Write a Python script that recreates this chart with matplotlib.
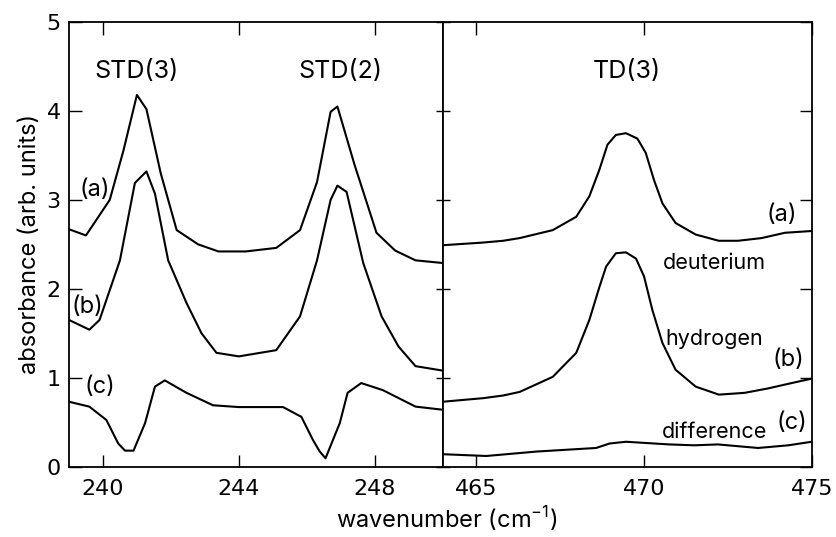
import matplotlib.pyplot as plt

plt.rcParams['font.family'] = ['Inter', 'DejaVu Sans']
plt.rcParams['mathtext.fontset'] = 'custom'
plt.rcParams['mathtext.rm'] = 'Inter'

# Data - low wavenumber region (STD bands)
x_a_low = [239.0, 239.5, 240.2, 240.6, 241.0, 241.28, 241.7, 242.17, 242.8, 243.4, 244.2, 245.1, 245.8, 246.3, 246.7, 246.9, 247.4, 248.05, 248.6, 249.2, 250.0]
y_a_low = [2.67, 2.60, 3.00, 3.55, 4.18, 4.02, 3.30, 2.66, 2.50, 2.42, 2.42, 2.46, 2.66, 3.20, 3.99, 4.05, 3.40, 2.63, 2.43, 2.32, 2.29]

x_b_low = [239.0, 239.6, 239.9, 240.5, 240.94, 241.28, 241.53, 241.92, 242.46, 242.9, 243.34, 244.0, 245.1, 245.8, 246.3, 246.7, 246.9, 247.17, 247.66, 248.2, 248.7, 249.2, 250.0]
y_b_low = [1.65, 1.54, 1.65, 2.32, 3.19, 3.32, 3.07, 2.32, 1.84, 1.50, 1.28, 1.24, 1.31, 1.69, 2.32, 3.00, 3.16, 3.09, 2.29, 1.69, 1.35, 1.13, 1.08]

x_c_low = [239.0, 239.6, 240.1, 240.45, 240.65, 240.9, 241.24, 241.53, 241.82, 242.46, 243.24, 244.0, 245.3, 245.84, 246.18, 246.38, 246.55, 246.97, 247.2, 247.6, 248.24, 249.2, 250.0]
y_c_low = [0.73, 0.675, 0.525, 0.26, 0.18, 0.18, 0.49, 0.90, 0.97, 0.83, 0.69, 0.67, 0.67, 0.56, 0.30, 0.17, 0.094, 0.49, 0.83, 0.94, 0.86, 0.675, 0.64]

# Data - high wavenumber region (TD band)
x_a_high = [464.0, 465.2, 465.8, 466.29, 467.28, 467.98, 468.37, 468.67, 468.91, 469.16, 469.46, 469.8, 470.05, 470.3, 470.55, 470.94, 471.54, 472.23, 472.8, 473.5, 474.2, 475.0]
y_a_high = [2.49, 2.52, 2.54, 2.57, 2.66, 2.81, 3.04, 3.34, 3.62, 3.73, 3.75, 3.69, 3.53, 3.22, 2.96, 2.74, 2.61, 2.54, 2.54, 2.57, 2.63, 2.65]

x_b_high = [464.0, 465.2, 465.8, 466.29, 467.28, 467.98, 468.37, 468.67, 468.87, 469.16, 469.46, 469.76, 470.0, 470.25, 470.55, 470.94, 471.54, 472.23, 473.0, 473.7, 474.4, 475.0]
y_b_high = [0.73, 0.77, 0.80, 0.84, 1.01, 1.28, 1.65, 2.02, 2.25, 2.40, 2.41, 2.34, 2.14, 1.76, 1.39, 1.09, 0.90, 0.81, 0.83, 0.88, 0.94, 0.99]

x_c_high = [464.0, 465.3, 466.8, 468.57, 468.97, 469.46, 470.75, 471.5, 472.2, 472.8, 473.4, 474.3, 475.0]
y_c_high = [0.14, 0.12, 0.17, 0.21, 0.26, 0.28, 0.25, 0.24, 0.25, 0.23, 0.21, 0.24, 0.28]

low_ticks = [240, 244, 248]
high_ticks = [465, 470, 475]
y_ticks = [0, 1, 2, 3, 4, 5]

fig = plt.figure(figsize=(8.36, 5.37), dpi=100)
ax1 = fig.add_axes([0.0825, 0.131, 0.4471, 0.828])
ax2 = fig.add_axes([0.5296, 0.131, 0.4414, 0.828], sharey=ax1)

for x, y in [(x_a_low, y_a_low), (x_b_low, y_b_low), (x_c_low, y_c_low)]:
    ax1.plot(x, y, color='black', lw=1.5)
for x, y in [(x_a_high, y_a_high), (x_b_high, y_b_high), (x_c_high, y_c_high)]:
    ax2.plot(x, y, color='black', lw=1.5)

ax1.set_xlim(239, 250)
ax2.set_xlim(464, 475)
ax1.set_ylim(0, 5)
ax1.set_xticks(low_ticks)
ax2.set_xticks(high_ticks)
ax1.set_yticks(y_ticks)

for ax in (ax1, ax2):
    ax.tick_params(direction='in', top=True, right=True, length=9, width=1)
    ax.tick_params(axis='x', pad=9)
    ax.tick_params(axis='y', pad=6)
    for lab in ax.get_xticklabels() + ax.get_yticklabels():
        lab.set_fontfamily('DejaVu Sans')
        lab.set_fontsize(16)
    for s in ax.spines.values():
        s.set_linewidth(1.3)
ax2.tick_params(labelleft=False)

# shorter ticks at the shared divider
for t in ax1.yaxis.get_major_ticks():
    t.tick2line.set_markersize(5)
for t in ax2.yaxis.get_major_ticks():
    t.tick1line.set_markersize(5)

# band labels
ax1.text(241.0, 4.44, 'STD(3)', fontsize=18, ha='center', va='center')
ax1.text(247.0, 4.44, 'STD(2)', fontsize=18, ha='center', va='center')
ax2.text(469.5, 4.44, 'TD(3)', fontsize=18, ha='center', va='center')

# curve labels
ax1.text(239.76, 3.11, '(a)', fontsize=17, ha='center', va='center')
ax1.text(239.54, 1.80, '(b)', fontsize=17, ha='center', va='center')
ax1.text(239.9, 0.90, '(c)', fontsize=17, ha='center', va='center')
ax2.text(474.1, 2.83, '(a)', fontsize=17, ha='center', va='center')
ax2.text(474.3, 1.20, '(b)', fontsize=17, ha='center', va='center')
ax2.text(474.4, 0.49, '(c)', fontsize=17, ha='center', va='center')
ax2.text(472.1, 2.29, 'deuterium', fontsize=15.5, ha='center', va='center')
ax2.text(472.1, 1.43, 'hydrogen', fontsize=15.5, ha='center', va='center')
ax2.text(472.1, 0.39, 'difference', fontsize=15.5, ha='center', va='center')

ax1.set_ylabel('absorbance (arb. units)', fontsize=17, labelpad=4)
fig.text(0.534, 0.034, 'wavenumber (cm$^{-1}$)', fontsize=17, ha='center', va='center')

fig.savefig('out.png', dpi=100)
